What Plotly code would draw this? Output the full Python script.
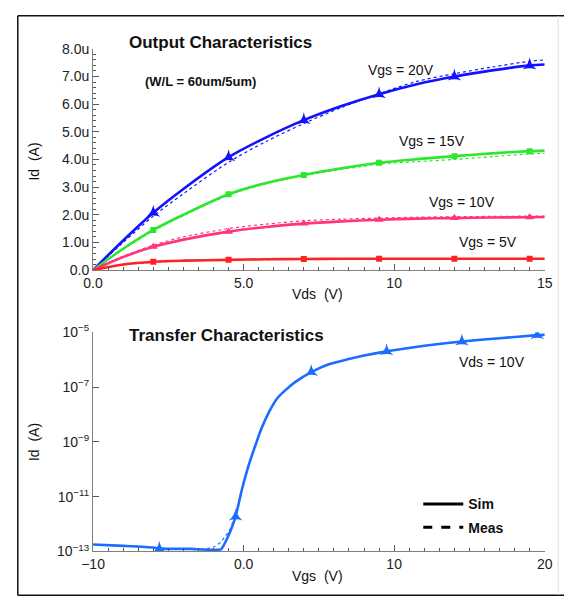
import plotly.graph_objects as go

W, H = 572, 608

# ---------------- data: output characteristics ----------------
vds = [0, 1, 2, 3, 4.5, 5.75, 7, 8.25, 9.5, 10.75, 12, 13.25, 14.5, 15]
marker_vds = [2, 4.5, 7, 9.5, 12, 14.5]

id20_sim = [0, 1.07, 2.07, 2.93, 4.08, 4.80, 5.42, 5.93, 6.36, 6.72, 7.00, 7.22, 7.40, 7.43]
id20_meas = [0, 1.00, 1.95, 2.76, 3.90, 4.65, 5.30, 5.88, 6.38, 6.82, 7.10, 7.34, 7.55, 7.60]
id15_sim = [0, 0.77, 1.45, 2.00, 2.74, 3.15, 3.44, 3.68, 3.88, 4.01, 4.12, 4.22, 4.30, 4.32]
id15_meas = [0, 0.75, 1.42, 1.97, 2.71, 3.12, 3.42, 3.64, 3.83, 3.92, 4.00, 4.10, 4.20, 4.22]
id10_sim = [0, 0.47, 0.84, 1.10, 1.39, 1.56, 1.68, 1.76, 1.82, 1.86, 1.88, 1.90, 1.91, 1.92]
id10_meas = [0, 0.50, 0.90, 1.20, 1.50, 1.66, 1.78, 1.84, 1.88, 1.91, 1.93, 1.94, 1.95, 1.95]
id5_sim = [0, 0.20, 0.30, 0.34, 0.37, 0.39, 0.40, 0.41, 0.41, 0.41, 0.41, 0.41, 0.41, 0.41]
id5_meas = [0, 0.19, 0.28, 0.33, 0.36, 0.38, 0.39, 0.40, 0.40, 0.40, 0.40, 0.40, 0.40, 0.40]

# ---------------- data: transfer characteristics ----------------
vgs = [-10, -8, -6, -5.6, -3.5, -1.5, -0.96, -0.53, -0.1, 0.32, 0.75, 1.17, 1.71, 2.24,
       2.78, 3.42, 4.49, 5.66, 6.84, 8, 9.5, 12, 14.5, 17, 19.5, 20]
idt_sim = [1.8e-13, 1.6e-13, 1.39e-13, 1.27e-13, 1.24e-13, 1.2e-13, 4.3e-13, 1.9e-12, 1.95e-11,
           1.3e-10, 6.6e-10, 2.95e-9, 1.3e-8, 3.9e-8,
           7.7e-8, 1.5e-7, 3.5e-7, 6.8e-7, 1.0e-6, 1.4e-6, 2.0e-6, 3.2e-6, 4.6e-6, 6.0e-6, 7.8e-6, 8.0e-6]
vgs_meas = [-10, -8, -6, -5.6, -3.5, -2.5, -2.0, -1.5, -1.28, -0.96, -0.53, -0.1, 0.32, 0.75,
            1.17, 1.71, 2.24, 2.78, 3.42, 4.49, 5.66, 6.84, 8, 9.5, 12, 14.5, 17, 19.5, 20]
idt_meas = [1.8e-13, 1.6e-13, 1.39e-13, 1.27e-13, 1.22e-13, 1.25e-13, 1.45e-13, 2.2e-13, 3.3e-13,
            5.5e-13, 2.1e-12, 2.1e-11, 1.4e-10, 7.0e-10,
            3.1e-9, 1.35e-8, 4.0e-8, 7.8e-8, 1.5e-7, 3.5e-7, 6.8e-7, 1.0e-6, 1.4e-6, 2.0e-6,
            3.2e-6, 4.6e-6, 6.0e-6, 7.9e-6, 8.1e-6]
marker_vgs = [-5.6, -0.53, 4.49, 9.5, 14.5, 19.5]

# tick labels
top_x_ticks = [0, 5, 10, 15]
top_x_text = ["0.0", "5.0", "10", "15"]
top_y_ticks = [0, 1, 2, 3, 4, 5, 6, 7, 8]
top_y_text = ["0.0", "1.0u", "2.0u", "3.0u", "4.0u", "5.0u", "6.0u", "7.0u", "8.0u"]
bot_x_ticks = [-10, 0, 10, 20]
bot_x_text = ["\u221210", "0.0", "10", "20"]
bot_y_exp = [-13, -11, -9, -7, -5]

FONT = "Liberation Sans, Arial, sans-serif"

def px(x):
    return x / W

def py(y):
    return 1 - y / H

fig = go.Figure()

series = [
    (id20_sim, id20_meas, "#1212ff", "star-triangle-up", 10),
    (id15_sim, id15_meas, "#2ee62e", "square", 6),
    (id10_sim, id10_meas, "#ff3380", "triangle-up", 8),
    (id5_sim, id5_meas, "#ff2222", "square", 6),
]
for sim, meas, col, sym, msz in series:
    sim_a = [v * 1e-6 for v in sim]
    meas_a = [v * 1e-6 for v in meas]
    fig.add_trace(go.Scatter(x=vds, y=meas_a, mode="lines", xaxis="x", yaxis="y",
                             line=dict(color=col, width=1.2, dash="dot", shape="spline", smoothing=0.8),
                             showlegend=False, hoverinfo="skip"))
    fig.add_trace(go.Scatter(x=vds, y=sim_a, mode="lines", xaxis="x", yaxis="y",
                             line=dict(color=col, width=2.6, shape="spline", smoothing=0.8),
                             showlegend=False))
    mx = [x for x in vds if x in marker_vds]
    my = [sim_a[i] for i, x in enumerate(vds) if x in marker_vds]
    fig.add_trace(go.Scatter(x=mx, y=my, mode="markers", xaxis="x", yaxis="y",
                             marker=dict(color=col, symbol=sym, size=msz),
                             showlegend=False))

tcol = "#1c6cff"
fig.add_trace(go.Scatter(x=vgs_meas, y=idt_meas, mode="lines", xaxis="x2", yaxis="y2",
                         line=dict(color=tcol, width=1.2, dash="dot", shape="spline", smoothing=0.4),
                         showlegend=False, hoverinfo="skip"))
fig.add_trace(go.Scatter(x=vgs, y=idt_sim, mode="lines", xaxis="x2", yaxis="y2",
                         line=dict(color=tcol, width=2.6, shape="spline", smoothing=0.4),
                         showlegend=False))
tmx = [x for x in vgs if x in marker_vgs]
tmy = [idt_sim[i] for i, x in enumerate(vgs) if x in marker_vgs]
fig.add_trace(go.Scatter(x=tmx, y=tmy, mode="markers", xaxis="x2", yaxis="y2",
                         marker=dict(color=tcol, symbol="star-triangle-up", size=10),
                         showlegend=False))

# legend entries
fig.add_trace(go.Scatter(x=[None], y=[None], mode="lines", name="Sim", xaxis="x2", yaxis="y2",
                         line=dict(color="black", width=3), legendgroup="a"))
fig.add_trace(go.Scatter(x=[None], y=[None], mode="lines", name="Meas", xaxis="x2", yaxis="y2",
                         line=dict(color="black", width=3, dash="dash"), legendgroup="b"))

axis_common = dict(showline=True, linecolor="#808080", linewidth=1, showgrid=False, zeroline=False,
                   ticks="inside", tickcolor="#555555", ticklen=6, tickwidth=1,
                   tickfont=dict(family=FONT, size=14, color="#222222"))

fig.update_layout(
    width=W, height=H,
    margin=dict(l=0, r=0, t=0, b=0),
    paper_bgcolor="white", plot_bgcolor="white",
    font=dict(family=FONT, size=14, color="#111111"),
    xaxis=dict(domain=[px(84), px(552)], range=[0, 15], anchor="y",
               tickmode="array", tickvals=top_x_ticks, ticktext=top_x_text,
               minor=dict(dtick=0.5, tick0=0, ticks="inside", ticklen=3, tickcolor="#555555"),
               **axis_common),
    yaxis=dict(domain=[py(268), py(40)], range=[0, 8e-6], anchor="x",
               tickmode="array", tickvals=[v * 1e-6 for v in top_y_ticks], ticktext=top_y_text,
               minor=dict(dtick=0.2e-6, tick0=0, ticks="inside", ticklen=3, tickcolor="#555555"),
               **axis_common),
    xaxis2=dict(domain=[px(84), px(552)], range=[-10, 20], anchor="y2",
                tickmode="array", tickvals=bot_x_ticks, ticktext=bot_x_text,
                minor=dict(dtick=1, tick0=0, ticks="inside", ticklen=3, tickcolor="#555555"),
                **axis_common),
    yaxis2=dict(domain=[py(558), py(332)], type="log", range=[-13, -5], anchor="x2",
                tickmode="array", tickvals=[10.0 ** e for e in bot_y_exp],
                ticktext=["10<sup>\u2212%d</sup>" % (-e) for e in bot_y_exp],
                **axis_common),
    showlegend=True,
    legend=dict(x=px(421), y=py(493), xanchor="left", yanchor="top",
                font=dict(family=FONT, size=14, color="#111111", weight="bold"),
                bgcolor="rgba(0,0,0,0)", borderwidth=0, tracegroupgap=2, itemwidth=40),
)

def ann(text, x, y, size=14, bold=False, angle=0):
    fig.add_annotation(text=text, x=px(x), y=py(y), xref="paper", yref="paper",
                       showarrow=False, xanchor="center", yanchor="middle", textangle=angle,
                       font=dict(family=FONT, size=size, color="#111111",
                                 weight="bold" if bold else "normal"))

ann("Output Characteristics", 216, 34, size=17, bold=True)
ann("(W/L = 60um/5um)", 195, 74, size=13, bold=True)
ann("Vgs = 20V", 403, 62)
ann("Vgs = 15V", 435, 135)
ann("Vgs = 10V", 466, 198)
ann("Vgs = 5V", 493, 239)
ann("Vds  (V)", 317, 293)
ann("Id  (A)", 23, 156, angle=-90)
ann("Transfer Characteristics", 222, 335, size=17, bold=True)
ann("Vds = 10V", 497, 363)
ann("Vgs  (V)", 317, 583)
ann("Id  (A)", 23, 445, angle=-90)

# outer frame
fig.add_shape(type="line", xref="paper", yref="paper", x0=px(6), x1=1, y0=py(6), y1=py(6),
              line=dict(color="#111111", width=1.5))
fig.add_shape(type="line", xref="paper", yref="paper", x0=px(6), x1=px(6), y0=py(6), y1=py(603),
              line=dict(color="#111111", width=1.5))
fig.add_shape(type="line", xref="paper", yref="paper", x0=px(6), x1=1, y0=py(603), y1=py(603),
              line=dict(color="#111111", width=1.5))
fig.add_shape(type="line", xref="paper", yref="paper", x0=px(566), x1=px(566), y0=py(6), y1=py(603),
              line=dict(color="#dddddd", width=1))

fig.write_html("out.html")
